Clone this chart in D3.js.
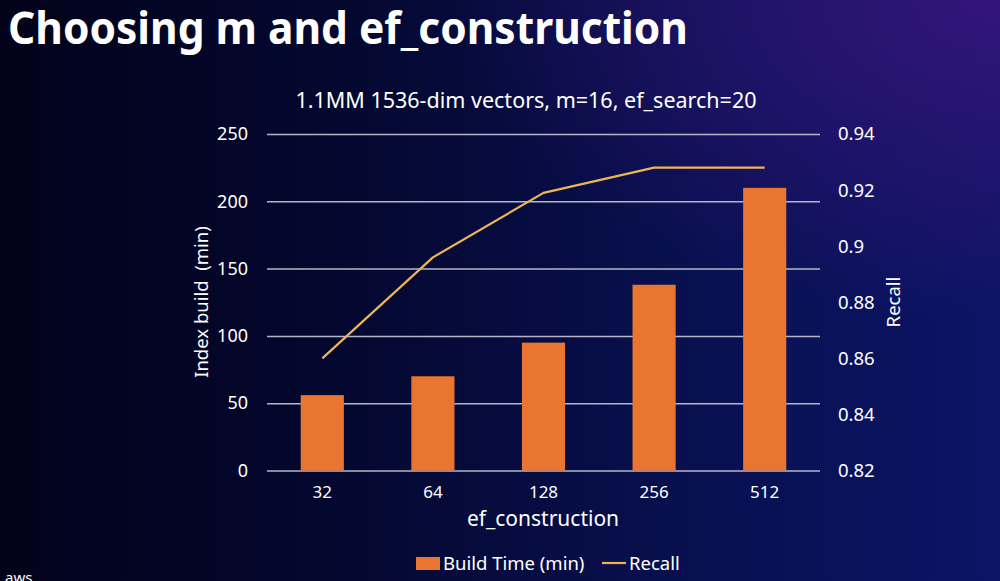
<!DOCTYPE html>
<html><head><meta charset="utf-8">
<script src="https://cdn.jsdelivr.net/npm/d3@7"></script>
<style>html,body{margin:0;padding:0;background:#03031c;}svg{display:block;}</style>
</head><body>
<script>
const categories = ["32", "64", "128", "256", "512"];
const buildTime = [56, 70, 95, 138, 210];
const recall = [0.86, 0.896, 0.919, 0.928, 0.928];
const leftTicks = [0, 50, 100, 150, 200, 250];
const rightTicks = [0.82, 0.84, 0.86, 0.88, 0.9, 0.92, 0.94];

const W = 1000, H = 581;
const font = "'Noto Sans', 'Open Sans', sans-serif";
const svg = d3.select("body").append("svg").attr("width", W).attr("height", H);
const defs = svg.append("defs");
const lg = defs.append("linearGradient").attr("id", "bg").attr("x1", "0").attr("y1", "0").attr("x2", "1").attr("y2", "0");
lg.append("stop").attr("offset", "0").attr("stop-color", "#02021a");
lg.append("stop").attr("offset", "0.35").attr("stop-color", "#040830");
lg.append("stop").attr("offset", "0.7").attr("stop-color", "#081050");
lg.append("stop").attr("offset", "1").attr("stop-color", "#0c1466");
const rg = defs.append("radialGradient").attr("id", "glow").attr("cx", "1").attr("cy", "0").attr("r", "0.55");
rg.append("stop").attr("offset", "0").attr("stop-color", "#35157a").attr("stop-opacity", 0.95);
rg.append("stop").attr("offset", "1").attr("stop-color", "#35157a").attr("stop-opacity", 0);
svg.append("rect").attr("width", W).attr("height", H).attr("fill", "url(#bg)");
svg.append("rect").attr("width", W).attr("height", H).attr("fill", "url(#glow)");

svg.append("text").attr("x", 8).attr("y", 44).attr("fill", "#fff")
  .attr("font-family", font).attr("font-weight", 700).attr("font-size", 44)
  .attr("textLength", 680).attr("lengthAdjust", "spacingAndGlyphs")
  .text("Choosing m and ef_construction");

svg.append("text").attr("x", 526).attr("y", 108).attr("text-anchor", "middle").attr("fill", "#fff")
  .attr("font-family", font).attr("font-size", 21.5)
  .text("1.1MM 1536-dim vectors, m=16, ef_search=20");

const x0 = 267, x1 = 820, yTop = 134, yBot = 470.5;
const x = d3.scaleBand().domain(categories).range([x0, x1]).paddingInner(0.61).paddingOuter(0.305);
const yL = d3.scaleLinear().domain([0, 250]).range([yBot, yTop]);
const yR = d3.scaleLinear().domain([0.82, 0.94]).range([yBot, yTop]);

// gridlines
const leftAxis = d3.axisLeft(yL).tickValues(leftTicks).tickSize(-(x1 - x0)).tickPadding(19).tickFormat(d3.format("d"));
const gL = svg.append("g").attr("transform", `translate(${x0},0)`).call(leftAxis);
gL.select(".domain").remove();
gL.selectAll(".tick line").attr("stroke", "#b4b6c8").attr("stroke-width", 1.5);
gL.selectAll(".tick text").attr("fill", "#fff").attr("font-family", font).attr("font-size", 18);

const rightAxis = d3.axisRight(yR).tickValues(rightTicks).tickSize(0).tickPadding(18).tickFormat(d => String(+d.toFixed(2)));
const gR = svg.append("g").attr("transform", `translate(${x1},0)`).call(rightAxis);
gR.select(".domain").remove();
gR.selectAll(".tick text").attr("fill", "#fff").attr("font-family", font).attr("font-size", 18.5);

// bars
svg.append("g").selectAll("rect").data(categories).join("rect")
  .attr("x", d => x(d)).attr("width", x.bandwidth())
  .attr("y", (d, i) => yL(buildTime[i])).attr("height", (d, i) => yBot - yL(buildTime[i]))
  .attr("fill", "#e97530");

// line
const line = d3.line().x((d, i) => x(categories[i]) + x.bandwidth() / 2).y(d => yR(d));
svg.append("path").datum(recall).attr("d", line).attr("fill", "none")
  .attr("stroke", "#efb554").attr("stroke-width", 2.2).attr("stroke-linejoin", "round");

// x axis labels
const xAxis = d3.axisBottom(x).tickSize(0).tickPadding(15);
const gX = svg.append("g").attr("transform", `translate(0,${yBot})`).call(xAxis);
gX.select(".domain").remove();
gX.selectAll(".tick text").attr("fill", "#fff").attr("font-family", font).attr("font-size", 17);

svg.append("text").attr("x", 543).attr("y", 526).attr("text-anchor", "middle").attr("fill", "#fff")
  .attr("font-family", font).attr("font-size", 21).text("ef_construction");

svg.append("text").attr("transform", "translate(208,302) rotate(-90)").attr("text-anchor", "middle")
  .attr("fill", "#fff").attr("font-family", font).attr("font-size", 18.5)
  .style("white-space", "pre").attr("xml:space", "preserve").text("Index build  (min)");
svg.append("text").attr("transform", "translate(900,302) rotate(-90)").attr("text-anchor", "middle")
  .attr("fill", "#fff").attr("font-family", font).attr("font-size", 18.5).text("Recall");

// legend
const lgd = svg.append("g");
lgd.append("rect").attr("x", 416).attr("y", 557).attr("width", 24).attr("height", 13).attr("fill", "#e97530");
lgd.append("text").attr("x", 443).attr("y", 570).attr("fill", "#fff").attr("font-family", font).attr("font-size", 18.5).text("Build Time (min)");
lgd.append("line").attr("x1", 602).attr("x2", 626).attr("y1", 563).attr("y2", 563).attr("stroke", "#efb554").attr("stroke-width", 2.2);
lgd.append("text").attr("x", 629).attr("y", 570).attr("fill", "#fff").attr("font-family", font).attr("font-size", 18.5).text("Recall");

svg.append("text").attr("x", 5).attr("y", 583).attr("fill", "#fff").attr("font-family", font).attr("font-size", 15).text("aws");
</script>
</body></html>
